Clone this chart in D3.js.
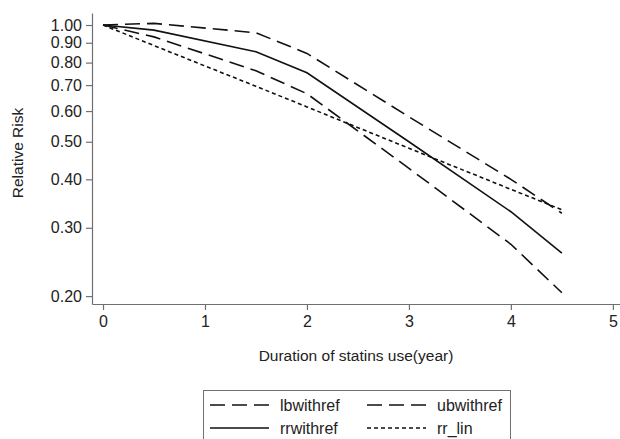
<!DOCTYPE html>
<html>
<head>
<meta charset="utf-8">
<script src="https://cdn.jsdelivr.net/npm/d3@7"></script>
<style>
  body { margin: 0; background: #fff; }
  text { font-family: "Liberation Sans", Arial, sans-serif; fill: #222; }
</style>
</head>
<body>
<div id="chart"></div>
<script>
const width = 620;
const height = 439;

// duration of statin use (years) at each knot
const years = [0, 0.5, 1.5, 2, 3, 4, 4.5];
const lbwithref = [1.00, 0.932, 0.762, 0.665, 0.427, 0.272, 0.204];
const ubwithref = [1.00, 1.010, 0.955, 0.845, 0.580, 0.400, 0.327];
const rrwithref = [1.00, 0.970, 0.853, 0.753, 0.500, 0.330, 0.258];
const rr_lin    = [1.00, 0.885, 0.695, 0.615, 0.481, 0.377, 0.334];

const yTicks = [0.2, 0.3, 0.4, 0.5, 0.6, 0.7, 0.8, 0.9, 1.0];
const xTicks = [0, 1, 2, 3, 4, 5];

const series = [
  { name: "lbwithref", values: lbwithref, dash: "15,7" },
  { name: "ubwithref", values: ubwithref, dash: "15,7" },
  { name: "rrwithref", values: rrwithref, dash: null },
  { name: "rr_lin", values: rr_lin, dash: "4,3" }
];

const x = d3.scaleLinear().domain([-0.108, 5.07]).range([92, 620]);
const y = d3.scaleLog().domain([0.1908, 1.074]).range([304, 13]);

let svg = d3.select("#chart").append("svg")
  .attr("width", width)
  .attr("height", height);

// axes
let yAxis = svg.append("g")
  .attr("transform", "translate(92,0)")
  .call(d3.axisLeft(y).tickValues(yTicks).tickFormat(d3.format(".2f")).tickSize(6).tickSizeOuter(0).tickPadding(4));

let xAxis = svg.append("g")
  .attr("transform", "translate(0,304)")
  .call(d3.axisBottom(x).tickValues(xTicks).tickFormat(d3.format("d")).tickSize(6).tickSizeOuter(0).tickPadding(6));

[yAxis, xAxis].forEach(function(a) {
  a.selectAll("path, line").attr("stroke", "#707070").attr("stroke-width", 1.2);
  a.selectAll("text").attr("font-size", 16).attr("fill", "#222")
    .attr("font-family", "'Liberation Sans', Arial, sans-serif");
});

svg.append("text")
  .attr("transform", "translate(23,153) rotate(-90)")
  .attr("text-anchor", "middle")
  .attr("font-size", 15.5)
  .text("Relative Risk");

svg.append("text")
  .attr("x", 356)
  .attr("y", 361)
  .attr("text-anchor", "middle")
  .attr("font-size", 15.5)
  .text("Duration of statins use(year)");

// lines
const line = d3.line()
  .x(function(d, i) { return x(years[i]); })
  .y(function(d) { return y(d); });

svg.append("g").selectAll("path")
  .data(series)
  .enter().append("path")
  .attr("d", function(d) { return line(d.values); })
  .attr("fill", "none")
  .attr("stroke", "#111")
  .attr("stroke-width", 1.6)
  .attr("stroke-dasharray", function(d) { return d.dash; });

// legend
let legend = svg.append("g");
legend.append("rect")
  .attr("x", 203.5).attr("y", 390.5)
  .attr("width", 307).attr("height", 60)
  .attr("fill", "#fff")
  .attr("stroke", "#707070");

const legendPos = [[210, 405], [367, 405], [210, 428], [367, 428]];
let items = legend.selectAll(".item")
  .data(series)
  .enter().append("g")
  .attr("class", "item")
  .attr("transform", function(d, i) { return "translate(" + legendPos[i][0] + "," + legendPos[i][1] + ")"; });

items.append("line")
  .attr("x1", 0).attr("x2", 59)
  .attr("stroke", "#111")
  .attr("stroke-width", 1.6)
  .attr("stroke-dasharray", function(d) { return d.dash; });

items.append("text")
  .attr("x", 70)
  .attr("dy", "0.35em")
  .attr("font-size", 16)
  .text(function(d) { return d.name; });
</script>
</body>
</html>
